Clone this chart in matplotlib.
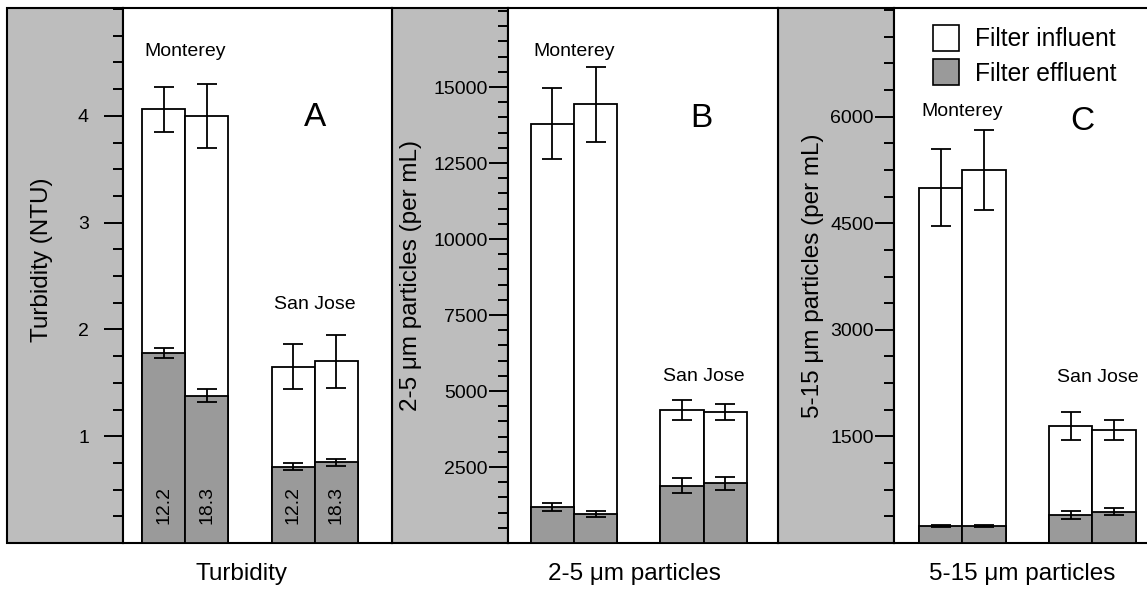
import matplotlib.pyplot as plt
from matplotlib.patches import Patch, Rectangle
from matplotlib.ticker import FixedLocator, MultipleLocator

plt.rcParams['font.family'] = ['Liberation Sans', 'DejaVu Sans']

################################################################################
# Data: bar order is Monterey 12.2, Monterey 18.3, San Jose 12.2, San Jose 18.3
rates = ['12.2', '18.3', '12.2', '18.3']
sites = ['Monterey', 'San Jose']
xpos = [0, 1, 3, 4]

turb_in = [4.06, 4.00, 1.65, 1.70]
turb_in_err = [0.21, 0.30, 0.21, 0.245]
turb_out = [1.78, 1.38, 0.715, 0.755]
turb_out_err = [0.045, 0.06, 0.035, 0.03]

p25_in = [13800, 14430, 4380, 4310]
p25_in_err = [1170, 1230, 330, 260]
p25_out = [1185, 955, 1890, 1965]
p25_out_err = [120, 95, 260, 220]

p515_in = [5000, 5250, 1650, 1590]
p515_in_err = [545, 565, 200, 145]
p515_out = [240, 240, 395, 440]
p515_out_err = [15, 15, 60, 47]

turb_ticks = [1, 2, 3, 4]
p25_ticks = [2500, 5000, 7500, 10000, 12500, 15000]
p515_ticks = [1500, 3000, 4500, 6000]

EFF_GRAY = '#9a9a9a'
BG_GRAY = '#bdbdbd'

################################################################################
W, H = 1147, 589
fig = plt.figure(figsize=(W / 100, H / 100), dpi=100)
TOP, BOT = 8, 543


def rect(left, right):
    return [left / W, 1 - BOT / H, (right - left) / W, (BOT - TOP) / H]


def panel(ax_px, gray_px, xlim, ylim, inf, inf_err, eff, eff_err,
          ticks, minor, pad, ylabel, ylab_xy, xlabel, xlab_x, letter, letter_xy,
          site_xy):
    # gray band behind the y axis labels
    g = Rectangle((gray_px[0] / W, 1 - BOT / H), (gray_px[1] - gray_px[0]) / W,
                  (BOT - TOP) / H, transform=fig.transFigure, facecolor=BG_GRAY,
                  edgecolor='black', linewidth=1.5, zorder=-1)
    fig.add_artist(g)

    ax = fig.add_axes(rect(*ax_px))
    ax.bar(xpos, inf, width=1, color='white', edgecolor='black', linewidth=1.3, zorder=2)
    ax.bar(xpos, eff, width=1, color=EFF_GRAY, edgecolor='black', linewidth=1.3, zorder=3)
    ax.errorbar(xpos, inf, yerr=inf_err, fmt='none', ecolor='black', elinewidth=1.3,
                capsize=7, capthick=1.3, zorder=4)
    ax.errorbar(xpos, eff, yerr=eff_err, fmt='none', ecolor='black', elinewidth=1.3,
                capsize=7, capthick=1.3, zorder=4)

    ax.set_xlim(*xlim)
    ax.set_ylim(*ylim)
    ax.set_xticks([])
    ax.yaxis.set_major_locator(FixedLocator(ticks))
    ax.set_yticklabels([str(t) for t in ticks])
    ax.yaxis.set_minor_locator(MultipleLocator(minor))
    ax.tick_params(axis='y', which='major', direction='out', length=13.5, width=1.4,
                   labelsize=14, pad=pad)
    ax.tick_params(axis='y', which='minor', direction='out', length=7, width=1.4)
    for s in ax.spines.values():
        s.set_linewidth(1.5)

    ax.set_ylabel(ylabel, fontsize=17.5, va='center')
    ax.yaxis.set_label_coords(*ylab_xy)
    ax.set_xlabel(xlabel, fontsize=17.5, va='center')
    ax.xaxis.set_label_coords(xlab_x, -0.058)

    ax.text(*letter_xy, letter, transform=ax.transAxes, fontsize=24,
            ha='center', va='center')
    for name, (sx, sy) in zip(sites, site_xy):
        ax.text(sx, sy, name, fontsize=14, ha='center', va='center')
    return ax


axA = panel((123, 392), (7, 123), (-0.94, 5.29), (0, 5.01),
            turb_in, turb_in_err, turb_out, turb_out_err,
            turb_ticks, 0.25, 11, 'Turbidity (NTU)', (-0.3, 0.53),
            'Turbidity', 0.441, 'A', (0.714, 0.795),
            [(0.5, 4.60), (3.5, 2.23)])
for x, r in zip(xpos, rates):
    axA.text(x, 0.36, r, rotation=90, fontsize=14, ha='center', va='center', zorder=5)

axB = panel((508, 778), (392, 508), (-1.03, 5.22), (0, 17600),
            p25_in, p25_in_err, p25_out, p25_out_err,
            p25_ticks, 500, 1, '2-5 \u03bcm particles (per mL)', (-0.359, 0.5),
            '2-5 \u03bcm particles', 0.470, 'B', (0.715, 0.794),
            [(0.5, 16160), (3.5, 5470)])

axC = panel((894, 1147), (778, 894), (-1.08, 4.76), (0, 7530),
            p515_in, p515_in_err, p515_out, p515_out_err,
            p515_ticks, 375, 1, '5-15 \u03bcm particles (per mL)', (-0.32, 0.5),
            '5-15 \u03bcm particles', 0.505, 'C', (0.743, 0.787),
            [(0.5, 6073), (3.63, 2333)])
axC.spines['right'].set_visible(False)

handles = [Patch(facecolor='white', edgecolor='black', linewidth=1.2, label='Filter influent'),
           Patch(facecolor=EFF_GRAY, edgecolor='black', linewidth=1.2, label='Filter effluent')]
axC.legend(handles=handles, loc='upper left', bbox_to_anchor=(0.153, 0.968),
           frameon=False, fontsize=17.75, handlelength=1.08, handleheight=1.25,
           handletextpad=0.62, labelspacing=0.32, borderpad=0, borderaxespad=0)

fig.savefig('out.png', dpi=100)
print('Done')
